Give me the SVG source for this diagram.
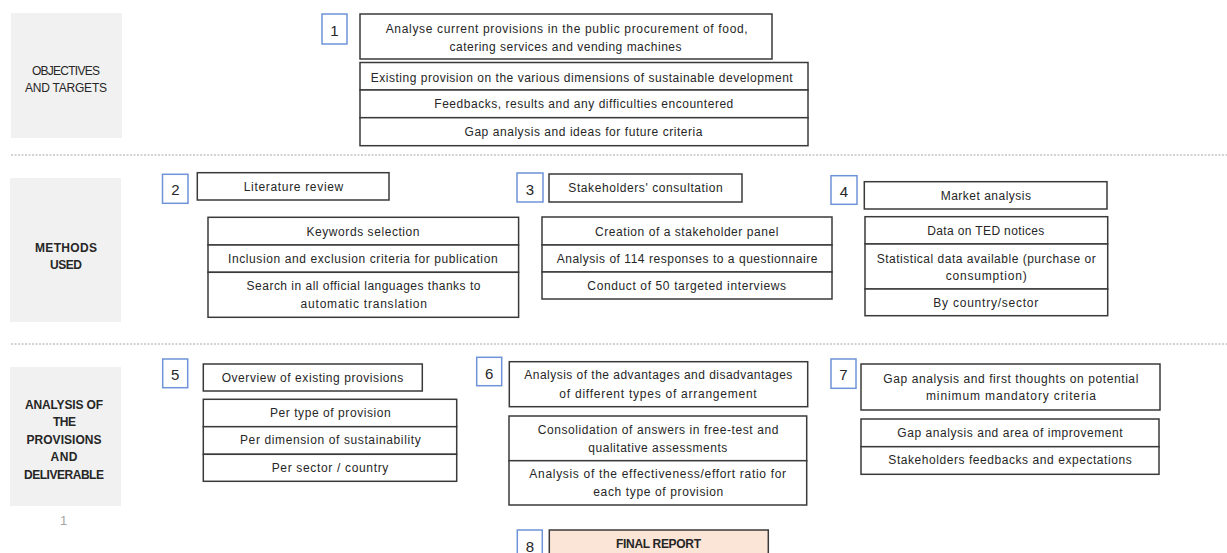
<svg xmlns="http://www.w3.org/2000/svg" width="1227" height="553" viewBox="0 0 1227 553">
<style>
.t{font-family:"Liberation Sans",Arial,sans-serif;font-size:12px;fill:#262626;text-anchor:middle}
.b{font-weight:bold}
.n{font-family:"Liberation Sans",Arial,sans-serif;font-size:15px;fill:#262626;text-anchor:middle}
.box{fill:#fff;stroke:#3a3a3a;stroke-width:1.5}
.num{fill:#fff;stroke:#6f93d8;stroke-width:1.5}
.side{fill:#f1f1f1}
.sep{stroke:#a6a6a6;stroke-width:1;stroke-dasharray:2 1.5;fill:none}
</style>
<rect width="1227" height="553" fill="#fff"/>
<g id="separators">
<line class="sep" x1="11" y1="155" x2="1227" y2="155"/>
<line class="sep" x1="11" y1="344" x2="1227" y2="344"/>
</g>
<g id="connectors"></g>
<g id="label-objectives">
<rect class="side" x="11" y="13" width="111" height="125"/>
<text class="t" x="66" y="75" textLength="68">OBJECTIVES</text>
<text class="t" x="66" y="92" textLength="82">AND TARGETS</text>
</g>
<g id="label-methods">
<rect class="side" x="10" y="178" width="111" height="144"/>
<text class="t b" x="66" y="252" textLength="62">METHODS</text>
<text class="t b" x="66" y="269" textLength="32">USED</text>
</g>
<g id="label-analysis">
<rect class="side" x="10" y="367" width="111" height="139"/>
<text class="t b" x="64" y="408.5" textLength="78">ANALYSIS OF</text>
<text class="t b" x="64.5" y="426" textLength="23">THE</text>
<text class="t b" x="64" y="443.5" textLength="75">PROVISIONS</text>
<text class="t b" x="64" y="461" textLength="27">AND</text>
<text class="t b" x="64" y="478.5" textLength="80">DELIVERABLE</text>
<text class="t" x="63.5" y="524.5" style="fill:#a6a6a6;font-size:13px">1</text>
</g>
<g id="node-1">
<rect class="num" x="322" y="14" width="25" height="30"/>
<text class="n" x="334.5" y="36">1</text>
<rect class="box" x="360" y="14" width="412" height="45"/>
<text class="t" x="566.7" y="33" textLength="362">Analyse current provisions in the public procurement of food,</text>
<text class="t" x="565.5" y="51" textLength="232">catering services and vending machines</text>
<rect class="box" x="360" y="62.5" width="448" height="27.5"/>
<rect class="box" x="360" y="90" width="448" height="27.7"/>
<rect class="box" x="360" y="117.7" width="448" height="28"/>
<text class="t" x="581.7" y="81.5" textLength="422">Existing provision on the various dimensions of sustainable development</text>
<text class="t" x="583.8" y="108" textLength="299">Feedbacks, results and any difficulties encountered</text>
<text class="t" x="583.5" y="135.5" textLength="238">Gap analysis and ideas for future criteria</text>
</g>
<g id="node-2">
<rect class="num" x="162.5" y="174.3" width="25.5" height="29"/>
<text class="n" x="175.3" y="195">2</text>
<rect class="box" x="197.3" y="172.7" width="191.7" height="27.3"/>
<text class="t" x="293.5" y="190.5" textLength="99.5">Literature review</text>
<rect class="box" x="208" y="217.3" width="310.6" height="27.7"/>
<rect class="box" x="208" y="245" width="310.6" height="27.3"/>
<rect class="box" x="208" y="272.3" width="310.6" height="45"/>
<text class="t" x="363" y="235.7" textLength="113">Keywords selection</text>
<text class="t" x="362.8" y="262.5" textLength="269.6">Inclusion and exclusion criteria for publication</text>
<text class="t" x="363.5" y="289.5" textLength="233.8">Search in all official languages thanks to</text>
<text class="t" x="363.8" y="307.5" textLength="126.4">automatic translation</text>
</g>
<g id="node-3">
<rect class="num" x="517" y="173" width="26" height="29"/>
<text class="n" x="530" y="195">3</text>
<rect class="box" x="549" y="174" width="193" height="28"/>
<text class="t" x="645.5" y="191.5" textLength="154.4">Stakeholders' consultation</text>
<rect class="box" x="542" y="217" width="290" height="28"/>
<rect class="box" x="542" y="245" width="290" height="27"/>
<rect class="box" x="542" y="272" width="290" height="27"/>
<text class="t" x="686.7" y="235.7" textLength="183.3">Creation of a stakeholder panel</text>
<text class="t" x="687" y="263" textLength="260.7">Analysis of 114 responses to a questionnaire</text>
<text class="t" x="686.7" y="289.7" textLength="198.7">Conduct of 50 targeted interviews</text>
</g>
<g id="node-4">
<rect class="num" x="831" y="175.7" width="26" height="28.6"/>
<text class="n" x="844" y="196.5">4</text>
<rect class="box" x="864.3" y="181.7" width="242.7" height="27.3"/>
<text class="t" x="985.8" y="199.5" textLength="90.3">Market analysis</text>
<rect class="box" x="865" y="216.7" width="242.7" height="27.3"/>
<rect class="box" x="865" y="244" width="242.7" height="45"/>
<rect class="box" x="865" y="289" width="242.7" height="26.7"/>
<text class="t" x="985.8" y="235" textLength="117">Data on TED notices</text>
<text class="t" x="986.2" y="262.5" textLength="219">Statistical data available (purchase or</text>
<text class="t" x="986.2" y="279.5" textLength="81">consumption)</text>
<text class="t" x="985.8" y="306.5" textLength="105">By country/sector</text>
</g>
<g id="node-5">
<rect class="num" x="162.7" y="359" width="25" height="28.7"/>
<text class="n" x="175.2" y="380">5</text>
<rect class="box" x="203.3" y="364" width="219" height="27"/>
<text class="t" x="312.5" y="381.5" textLength="181.7">Overview of existing provisions</text>
<rect class="box" x="203.3" y="399.3" width="253.4" height="27.4"/>
<rect class="box" x="203.3" y="426.7" width="253.4" height="27.6"/>
<rect class="box" x="203.3" y="454.3" width="253.4" height="27"/>
<text class="t" x="330.3" y="416.5" textLength="120.7">Per type of provision</text>
<text class="t" x="330.3" y="444" textLength="180.7">Per dimension of sustainability</text>
<text class="t" x="330" y="471.5" textLength="116.7">Per sector / country</text>
</g>
<g id="node-6">
<rect class="num" x="476.7" y="357.3" width="25" height="28.4"/>
<text class="n" x="489.2" y="378.5">6</text>
<rect class="box" x="509.3" y="361.7" width="298.4" height="45"/>
<text class="t" x="658.3" y="379" textLength="268">Analysis of the advantages and disadvantages</text>
<text class="t" x="658" y="397.5" textLength="197.3">of different types of arrangement</text>
<rect class="box" x="509" y="416" width="297.7" height="44.7"/>
<rect class="box" x="509" y="460.7" width="297.7" height="44.3"/>
<text class="t" x="658" y="433.5" textLength="240.7">Consolidation of answers in free-test and</text>
<text class="t" x="657.8" y="451.5" textLength="139">qualitative assessments</text>
<text class="t" x="657.7" y="478" textLength="256.7">Analysis of the effectiveness/effort ratio for</text>
<text class="t" x="658.3" y="495.5" textLength="130">each type of provision</text>
</g>
<g id="node-7">
<rect class="num" x="831" y="359" width="25" height="29.3"/>
<text class="n" x="843.5" y="380">7</text>
<rect class="box" x="861" y="364" width="299" height="46"/>
<text class="t" x="1010.8" y="382.5" textLength="255">Gap analysis and first thoughts on potential</text>
<text class="t" x="1011" y="400" textLength="170">minimum mandatory criteria</text>
<rect class="box" x="861" y="419" width="298" height="27.7"/>
<rect class="box" x="861" y="446.7" width="298" height="27.6"/>
<text class="t" x="1010" y="436.5" textLength="225.3">Gap analysis and area of improvement</text>
<text class="t" x="1010" y="464" textLength="243.3">Stakeholders feedbacks and expectations</text>
</g>
<g id="node-8">
<rect class="num" x="517.3" y="530" width="25" height="30"/>
<text class="n" x="529.8" y="551.5">8</text>
<rect class="box" x="549.3" y="530" width="219" height="30" style="fill:#fbe5d6"/>
<text class="t b" x="658.5" y="547.5" textLength="85">FINAL REPORT</text>
</g>
</svg>
